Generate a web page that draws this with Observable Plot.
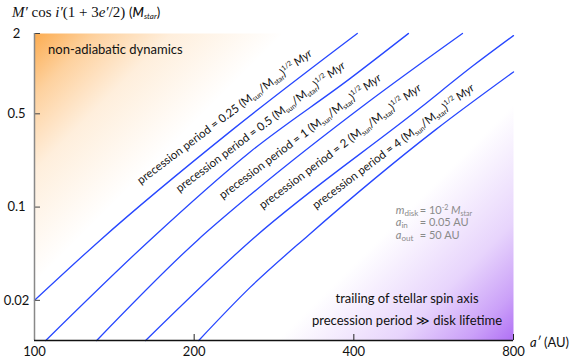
<!DOCTYPE html>
<html><head><meta charset="utf-8">
<script src="https://cdn.jsdelivr.net/npm/d3@7"></script>
<script src="https://cdn.jsdelivr.net/npm/@observablehq/plot@0.6"></script>
<style>
html,body{margin:0;padding:0;background:#fff;}
#chart svg{display:block;}
</style>
</head><body><div id="chart"></div>
<script>
// ---- data ----
const xDomain = [100, 800];
const yDomain = [0.01, 2];
const xTicks = [100, 200, 400, 800];
const yTicks = [2, 0.5, 0.1, 0.02];
const periods = ["0.25", "0.5", "1", "2", "4"];
// semi-major axis a' (AU) and M' cos i'(1+3e'/2) (M_star) along each curve
const aP025 = [100, 133, 236, 406];
const mP025 = [0.02, 0.0565, 0.379, 2];
const aP05 = [105, 165, 255, 395, 507];
const mP05 = [0.01, 0.0565, 0.259, 0.93, 2];
const aP1 = [131, 203, 255, 424, 641];
const mP1 = [0.01, 0.0565, 0.123, 0.605, 2];
const aP2 = [162, 255, 534, 672, 800];
const mP2 = [0.01, 0.0555, 0.555, 1.15, 1.93];
const aP4 = [204, 255, 328.5, 570, 800];
const mP4 = [0.01, 0.025, 0.0616, 0.379, 1.03];
// label anchor (start of baseline) for each curve label
const labelA = [159, 188, 227, 270, 340];
const labelM = [0.146, 0.127, 0.113, 0.095, 0.095];
// annotations
const regionTop = {a: 106.3, m: 1.39, text: "non-adiabatic dynamics"};
const regionBottom1 = {a: 505, m: 0.019, text: "trailing of stellar spin axis"};
const regionBottom2 = {a: 505, m: 0.013, text: "precession period \u226B disk lifetime"};
const paramAnchor = {a: 481, m: 0.088};
const paramRows = [
  {sym: "m", sub: "disk", val: "= 10", sup: "-2", unit: "M", unitSub: "star"},
  {sym: "a", sub: "in", val: "= 0.05 AU"},
  {sym: "a", sub: "out", val: "= 50 AU"}
];

// ---- build table ----
const curvesA = [aP025, aP05, aP1, aP2, aP4];
const curvesM = [mP025, mP05, mP1, mP2, mP4];
const rows = [];
periods.forEach((p, k) => curvesA[k].forEach((a, i) => rows.push({period: p, a, m: curvesM[k][i]})));

const FONT = "Lato, 'Open Sans', sans-serif";
const BLUE = "#2747ff";

const chart = Plot.plot({
  width: 573, height: 358,
  marginLeft: 34, marginRight: 60, marginTop: 33, marginBottom: 18,
  x: {type: "log", domain: xDomain},
  y: {type: "log", domain: yDomain},
  style: {fontFamily: FONT, fontSize: "13px", background: "white", color: "#111", overflow: "visible"},
  marks: [
    Plot.frame({fill: "url(#gOrange)", stroke: "none"}),
    Plot.frame({fill: "url(#gPurple)", stroke: "none"}),
    Plot.line(rows, {x: "a", y: "m", z: "period", stroke: BLUE, strokeWidth: 1.3, curve: "monotone-x"}),
    Plot.axisX({ticks: xTicks, tickSize: 0, tickPadding: 6, tickFormat: d => String(d), label: null, fontSize: 13}),
    Plot.axisY({ticks: yTicks, tickSize: 0, tickPadding: 18, textAnchor: "middle", tickFormat: d => String(d), label: null, fontSize: 13}),
    Plot.axisX({ticks: xTicks, tickSize: -6, tickFormat: () => "", label: null, stroke: "#222"}),
    Plot.axisY({ticks: yTicks, tickSize: -6, tickFormat: () => "", label: null, stroke: "#444"}),
    Plot.ruleX([xDomain[0]], {stroke: "#888", strokeWidth: 1.5}),
    Plot.ruleY([yDomain[0]], {stroke: "#111", strokeWidth: 1.5})
  ]
});
document.getElementById("chart").appendChild(chart);

const xs = chart.scale("x"), ys = chart.scale("y");
const sx = v => xs.apply(v), sy = v => ys.apply(v);
const svg = d3.select(chart);

// gradients
const pxLeft = sx(xDomain[0]), pxRight = sx(xDomain[1]), pyTop = sy(yDomain[1]), pyBottom = sy(yDomain[0]);
const defs = svg.insert("defs", ":first-child");
const og = defs.append("linearGradient").attr("id", "gOrange").attr("gradientUnits", "userSpaceOnUse")
  .attr("x1", pxLeft).attr("y1", pyTop).attr("x2", pxLeft + 125).attr("y2", pyTop + 125);
[[0, 1], [0.25, 0.55], [0.55, 0.2], [1, 0]].forEach(([o, a]) =>
  og.append("stop").attr("offset", o).attr("stop-color", "rgb(252,172,80)").attr("stop-opacity", a));
const pg = defs.append("linearGradient").attr("id", "gPurple").attr("gradientUnits", "userSpaceOnUse")
  .attr("x1", pxRight).attr("y1", pyBottom).attr("x2", pxRight - 118).attr("y2", pyBottom - 118);
[[0, 1], [0.2, 0.66], [0.5, 0.3], [1, 0]].forEach(([o, a]) =>
  pg.append("stop").attr("offset", o).attr("stop-color", "rgb(176,112,245)").attr("stop-opacity", a));

const ann = svg.append("g").attr("font-family", FONT).attr("fill", "#111").attr("text-anchor", "start");

// curve labels
periods.forEach((p, k) => {
  const t = ann.append("text").attr("font-size", 11.5)
    .attr("transform", `translate(${sx(labelA[k])},${sy(labelM[k])}) rotate(-37)`);
  t.append("tspan").text(`precession period = ${p} (M`);
  t.append("tspan").attr("font-size", 7).attr("dy", 2).text("sun");
  t.append("tspan").attr("dy", -2).text("/M");
  t.append("tspan").attr("font-size", 7).attr("dy", 2).text("star");
  t.append("tspan").attr("dy", -2).text(")");
  t.append("tspan").attr("font-size", 7).attr("dy", -5).text("1/2");
  t.append("tspan").attr("dy", 5).attr("font-style", "italic").text(" Myr");
});

// region texts
ann.append("text").attr("x", sx(regionTop.a)).attr("y", sy(regionTop.m)).attr("font-size", 13).text(regionTop.text);
ann.append("text").attr("x", sx(regionBottom1.a)).attr("y", sy(regionBottom1.m)).attr("font-size", 13)
  .attr("text-anchor", "middle").text(regionBottom1.text);
ann.append("text").attr("x", sx(regionBottom2.a)).attr("y", sy(regionBottom2.m)).attr("font-size", 13)
  .attr("text-anchor", "middle").text(regionBottom2.text);

// parameter box
const px0 = sx(paramAnchor.a), py0 = sy(paramAnchor.m);
paramRows.forEach((r, i) => {
  const y = py0 + i * 12.5;
  const t1 = ann.append("text").attr("x", px0).attr("y", y).attr("font-size", 11).attr("fill", "#8a8a8a");
  t1.append("tspan").attr("font-style", "italic").text(r.sym);
  t1.append("tspan").attr("font-size", 8).attr("dy", 2).text(r.sub);
  const t2 = ann.append("text").attr("x", px0 + 24).attr("y", y).attr("font-size", 11).attr("fill", "#8a8a8a");
  t2.append("tspan").text(r.val);
  if (r.sup) {
    t2.append("tspan").attr("font-size", 7).attr("dy", -4).text(r.sup);
    t2.append("tspan").attr("dy", 4).attr("font-style", "italic").text(" " + r.unit);
    t2.append("tspan").attr("font-size", 7).attr("dy", 2).text(r.unitSub);
  }
});

// y axis title (top left)
const yt = ann.append("text").attr("x", sx(xDomain[0]) - 22).attr("y", sy(yDomain[1]) - 16)
  .attr("font-family", "'Liberation Serif', 'DejaVu Serif', serif").attr("font-size", 15);
yt.append("tspan").attr("font-style", "italic").text("M\u2032");
yt.append("tspan").text(" cos ");
yt.append("tspan").attr("font-style", "italic").text("i\u2032");
yt.append("tspan").text("(1 + 3");
yt.append("tspan").attr("font-style", "italic").text("e\u2032");
yt.append("tspan").text("/2) ");
yt.append("tspan").attr("font-family", FONT).attr("font-size", 13).text("(");
yt.append("tspan").attr("font-family", FONT).attr("font-size", 13).attr("font-style", "italic").attr("font-weight", 600).text("M");
yt.append("tspan").attr("font-family", FONT).attr("font-size", 8).attr("font-style", "italic").attr("dy", 2).text("star");
yt.append("tspan").attr("font-family", FONT).attr("font-size", 13).attr("dy", -2).text(")");

// x axis title
const xt = ann.append("text").attr("x", sx(xDomain[1]) + 17).attr("y", sy(yDomain[0]) + 7).attr("font-size", 13);
xt.append("tspan").attr("font-style", "italic").text("a\u2032");
xt.append("tspan").text(" (AU)");
</script>
</body></html>
